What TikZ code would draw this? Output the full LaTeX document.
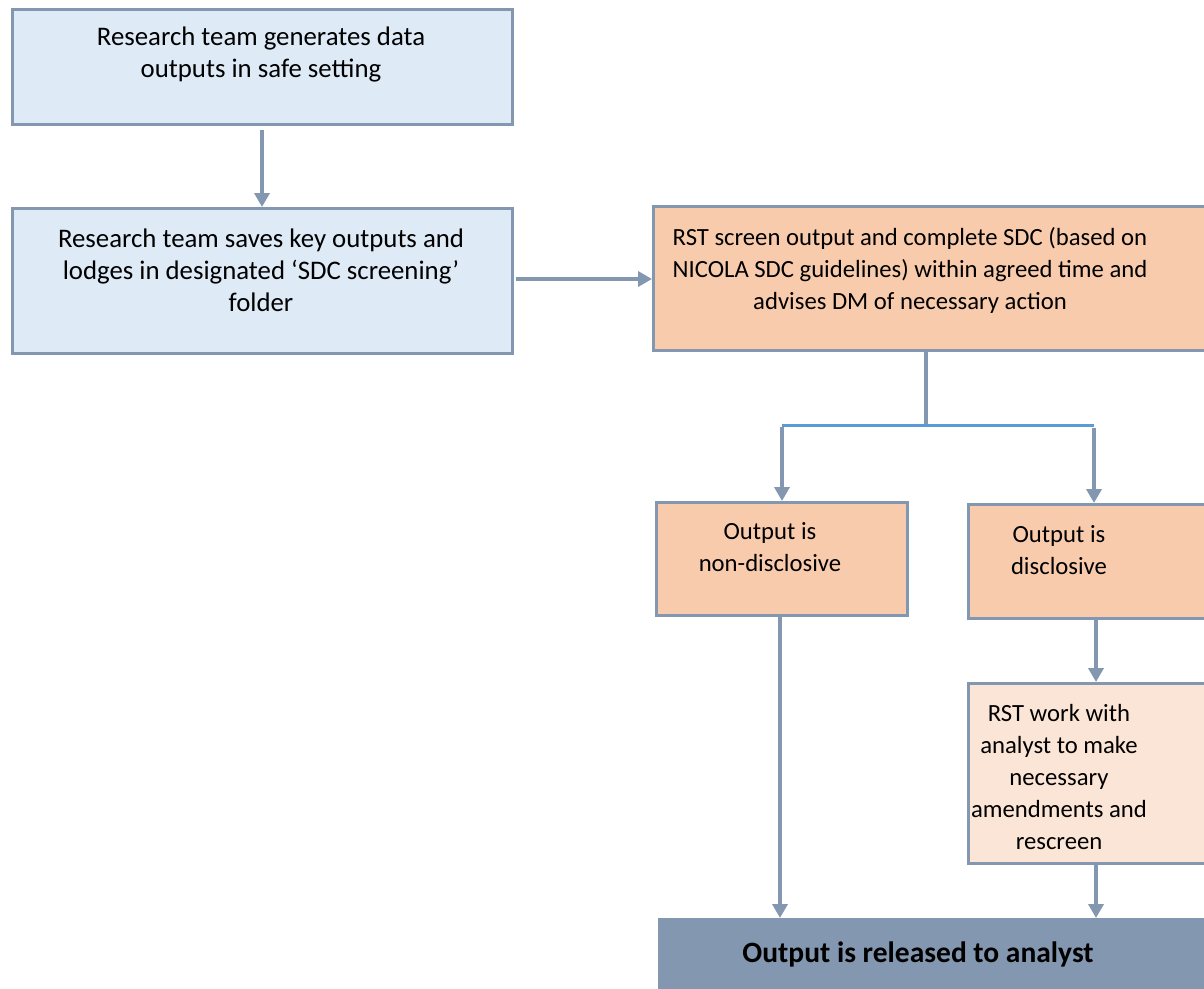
\documentclass[tikz,border=0pt]{standalone}
\usepackage{fontspec}
\setmainfont{Carlito}
\usetikzlibrary{arrows.meta}
\definecolor{edge}{HTML}{8497B0}
\definecolor{bluefill}{HTML}{DEEAF6}
\definecolor{orfill}{HTML}{F8CBAD}
\definecolor{litefill}{HTML}{FBE5D6}
\definecolor{blueline}{HTML}{5B9BD5}
\tikzset{
  box/.style={draw=edge, line width=3pt, anchor=north west, inner sep=0pt},
  txt/.style={font=\fontsize{26.8}{32}\selectfont, align=center, inner sep=0pt},
  txtr/.style={font=\fontsize{24.7}{32}\selectfont, align=center, inner sep=0pt},
  arr/.style={draw=edge, line width=3.5pt, -{Triangle[width=15pt,length=14pt]}},
  ln/.style={draw=edge, line width=3.5pt},
}
\begin{document}
\begin{tikzpicture}[x=1pt,y=-1pt]
\useasboundingbox (0,0) rectangle (1204,988);
% boxes
\node[box, fill=bluefill, minimum width=500pt, minimum height=115pt] (b1) at (11,8) {};
\node[box, fill=bluefill, minimum width=500pt, minimum height=145pt] (b2) at (11,207) {};
\node[box, fill=orfill, minimum width=570pt, minimum height=144pt] (b3) at (652,205) {};
\node[box, fill=orfill, minimum width=251pt, minimum height=113pt] (b4) at (655,501) {};
\node[box, fill=orfill, minimum width=260pt, minimum height=114pt] (b5) at (967,503) {};
\node[box, fill=litefill, minimum width=260pt, minimum height=180pt] (b6) at (967,682) {};
\node[anchor=north west, fill=edge, minimum width=560pt, minimum height=80pt, inner sep=0pt] (b7) at (658,918) {};
% texts
\node[txt] (t1) at (261,54) {Research team generates data\\outputs in safe setting};
\node[txt] (t2) at (261,270) {Research team saves key outputs and\\lodges in designated ‘SDC screening’\\folder};
\node[txtr] (t3) at (910,270) {RST screen output and complete SDC (based on\\NICOLA SDC guidelines) within agreed time and\\advises DM of necessary action};
\node[txtr] (t4) at (770,547) {Output is\\non-disclosive};
\node[txtr] (t5) at (1059,550) {Output is\\disclosive};
\node[txtr] (t6) at (1059,777) {RST work with\\analyst to make\\necessary\\amendments and\\rescreen};
\node[txt, font=\fontsize{29.5}{32}\selectfont\bfseries] (t7) at (918,954) {Output is released to analyst};
% connectors
\coordinate (j) at (926,425);
\coordinate (jl) at (782,425);
\coordinate (jr) at (1094,425);
\draw[arr] (b1.south -| 262,0) ++(0,4) -- (b2.north -| 262,0);
\draw[arr] (b2.east |- 0,279) ++(2,0) -- (b3.west |- 0,279);
\draw[ln] (b3.south -| j) -- (j);
\draw[blueline, line width=3pt] (jl) -- (jr);
\draw[arr] ([yshift=-1.5pt]jl) -- (b4.north -| jl);
\draw[arr] ([yshift=-3pt]jr) -- (b5.north -| jr);
\draw[arr] (b5.south -| 1096,0) -- (b6.north -| 1096,0);
\draw[arr] (b4.south -| 780,0) -- (b7.north -| 780,0);
\draw[arr] (b6.south -| 1096,0) -- (b7.north -| 1096,0);
\end{tikzpicture}
\end{document}
